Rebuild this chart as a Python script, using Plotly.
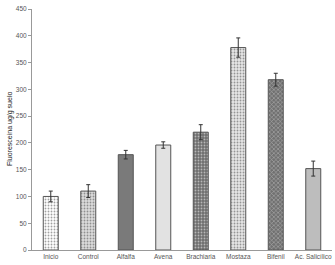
import plotly.graph_objects as go

categories = ["Inicio", "Control", "Alfalfa", "Avena", "Brachiaria", "Mostaza", "Bifenil", "Ac. Salicílico"]
values = [100, 110, 178, 196, 220, 378, 318, 152]
errors = [10, 12, 8, 6, 14, 18, 12, 14]
y_ticks = [0, 50, 100, 150, 200, 250, 300, 350, 400, 450]

fill_colors = ["#ffffff", "#dcdcdc", "#7a7a7a", "#e2e2e2", "#6e6e6e", "#e6e6e6", "#707070", "#bdbdbd"]
pattern_shapes = [".", ".", "", "", ".", ".", "x", ""]
pattern_fg = ["#aaaaaa", "#b8b8b8", "#7a7a7a", "#e2e2e2", "#555555", "#a8a8a8", "#444444", "#bdbdbd"]

fig = go.Figure(go.Bar(
    x=categories, y=values,
    error_y=dict(type="data", array=errors, color="#333333", thickness=1, width=2),
    marker=dict(color=fill_colors,
                line=dict(color="#555555", width=1),
                pattern=dict(shape=pattern_shapes, fgcolor=pattern_fg, size=3, solidity=0.3)),
    width=0.4,
))

fig.update_layout(
    width=335, height=265,
    margin=dict(l=32, r=3, t=9, b=15, autoexpand=False),
    paper_bgcolor="white", plot_bgcolor="white",
    font=dict(family="Liberation Sans, Arial, sans-serif", size=6.5, color="#555555"),
    showlegend=False,
    annotations=[dict(text="Fluoresceina ug/g suelo", xref="paper", yref="paper",
                      x=-0.075, y=0.5, xanchor="center", yanchor="middle", textangle=-90,
                      showarrow=False, font=dict(size=7, color="#222222"))],
)
fig.update_yaxes(range=[0, 450], tickvals=y_ticks, showgrid=False, zeroline=False,
                 showline=True, linecolor="#999999", linewidth=1, automargin=False,
                 ticks="outside", ticklen=3, tickcolor="#999999")
fig.update_xaxes(showgrid=False, showline=True, linecolor="#999999", linewidth=1,
                 automargin=False, ticks="", tickfont=dict(size=6.5))

fig.write_html("out.html", config={"displayModeBar": False},
               post_script="document.body.style.margin='0';document.body.style.overflow='hidden';")
